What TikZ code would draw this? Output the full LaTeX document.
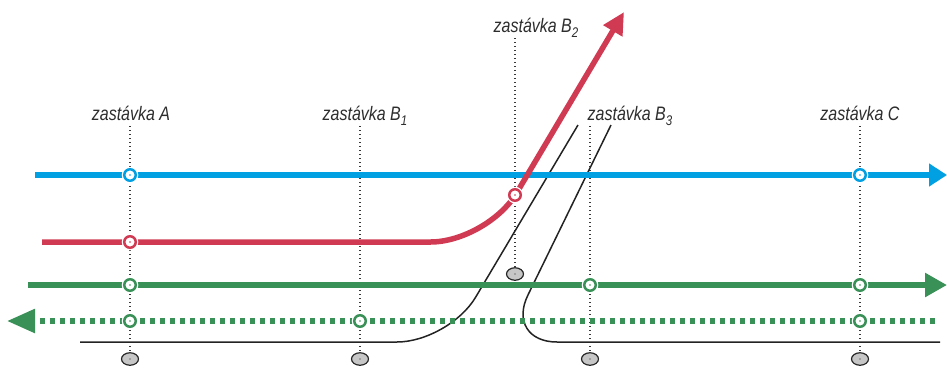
\documentclass[tikz,border=0pt]{standalone}
\usepackage{fontspec}
\newfontfamily\stopfont[FakeStretch=0.82]{Liberation Sans}
\usetikzlibrary{arrows.meta, shapes.geometric}
\definecolor{lineblue}{RGB}{0,160,227}
\definecolor{linered}{RGB}{208,58,82}
\definecolor{linegreen}{RGB}{58,145,88}
\definecolor{trackgray}{RGB}{35,35,35}
\definecolor{labelgray}{RGB}{45,45,45}
\newcommand{\stopidx}[1]{\raisebox{-0.55ex}{\fontsize{14}{14}\selectfont #1}}
\tikzstyle{route} = [line width=5.5pt]
\tikzstyle{track} = [line width=1.5pt, draw=trackgray, rounded corners=52pt]
\tikzstyle{guide} = [line width=1.1pt, gray!45!black, dash pattern=on 1pt off 3pt]
\tikzstyle{stoplabel} = [font=\stopfont\itshape\fontsize{19.5}{22}\selectfont, text=labelgray, inner sep=0pt, anchor=base]
\tikzstyle{platform} = [ellipse, draw=gray!30!black, fill=gray!45, line width=1.2pt,
    minimum width=17pt, minimum height=12.5pt, inner sep=0pt,
    path picture={\fill[gray!25!black] (path picture bounding box.center) circle (0.7pt);}]
\tikzset{
    halt/.style={circle, draw=#1, fill=white, line width=2.5pt, minimum size=11.5pt, inner sep=0pt,
        preaction={draw=white, line width=5pt},
        path picture={\fill[#1] (path picture bounding box.center) circle (0.9pt);}},
}

\begin{document}
\begin{tikzpicture}[x=1pt, y=-1pt]
    \useasboundingbox (0,0) rectangle (947,373);
    % stops
    \node[stoplabel] (labA)  at (131,120) {zastávka A};
    \node[stoplabel] (labB1) at (365,120) {zastávka B\stopidx{1}};
    \node[stoplabel] (labB2) at (536,32)  {zastávka B\stopidx{2}};
    \node[stoplabel] (labB3) at (630,120) {zastávka B\stopidx{3}};
    \node[stoplabel] (labC)  at (860,120) {zastávka C};
    \node[platform] (platA)  at (130,359) {};
    \node[platform] (platB1) at (360,359) {};
    \node[platform] (platB2) at (515,274) {};
    \node[platform] (platB3) at (590,359) {};
    \node[platform] (platC)  at (860,359) {};
    \draw[guide] (platA |- labA.base) ++(0,6) -- (platA);
    \draw[guide] (platB1 |- labB1.base) ++(0,6) -- (platB1);
    \draw[guide] (platB2 |- labB2.base) ++(0,6) -- (platB2);
    \draw[guide] (platB3 |- labB3.base) ++(0,6) -- (platB3);
    \draw[guide] (platC |- labC.base) ++(0,6) -- (platC);

    % tracks
    \coordinate (trackAW) at (80,342);
    \coordinate (trackAS) at (449,342);
    \coordinate (trackAN) at (578,125);
    \coordinate (trackBN) at (611,125);
    \coordinate (trackBS) at (505,342);
    \coordinate (trackBE) at (940,342);
    \draw[track] (trackAW) -- (trackAS) -- (trackAN);
    \draw[track] (trackBN) -- (trackBS) -- (trackBE);

    % lines
    \coordinate (blueW) at (35,175);
    \coordinate (blueE) at (947,175);
    \coordinate (redW) at (42,242);
    \coordinate (redS) at (487.5,242);
    \coordinate (redN) at (624,12);
    \coordinate (greenW) at (28,285);
    \coordinate (greenE) at (947,285);
    \coordinate (backE) at (935,321);
    \coordinate (backW) at (7,321);
    \draw[route, lineblue, -{Triangle[length=18pt, width=22pt]}] (blueW) -- (blueE);
    \draw[route, linered, rounded corners=57pt, -{Triangle[length=22pt, width=21pt]}] (redW) -- (redS) -- (redN);
    \draw[route, linegreen, -{Triangle[length=22pt, width=23pt]}] (greenW) -- (greenE);
    \draw[route, linegreen, dash pattern=on 5pt off 5pt, -{Triangle[length=28pt, width=23pt]}] (backE) -- (backW);

    % halts
    \node[halt=lineblue] (blueA) at (platA |- blueW) {};
    \node[halt=lineblue] (blueC) at (platC |- blueW) {};
    \node[halt=linered] (redA) at (platA |- redW) {};
    \node[halt=linered] (redB2) at (515,195) {};
    \node[halt=linegreen] (greenA) at (platA |- greenW) {};
    \node[halt=linegreen] (greenB3) at (platB3 |- greenW) {};
    \node[halt=linegreen] (greenC) at (platC |- greenW) {};
    \node[halt=linegreen] (backA) at (platA |- backW) {};
    \node[halt=linegreen] (backB1) at (platB1 |- backW) {};
    \node[halt=linegreen] (backC) at (platC |- backW) {};
\end{tikzpicture}
\end{document}
